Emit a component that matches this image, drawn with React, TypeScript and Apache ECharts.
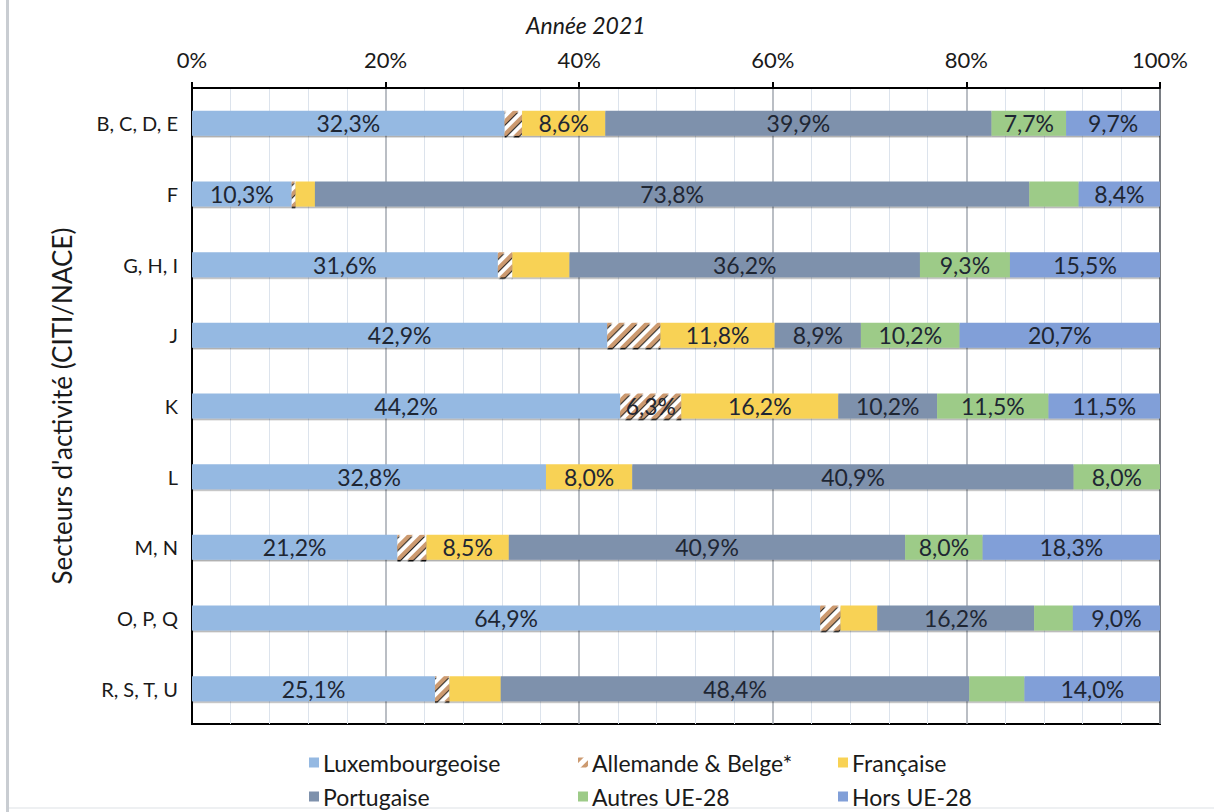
import React, { useEffect, useRef } from "react";
import * as echarts from "echarts";

const categories = ["B, C, D, E", "F", "G, H, I", "J", "K", "L", "M, N", "O, P, Q", "R, S, T, U"];
const seriesNames = ["Luxembourgeoise", "Allemande & Belge*", "Française", "Portugaise", "Autres UE-28", "Hors UE-28"];
const luxembourgeoise = [32.3, 10.3, 31.6, 42.9, 44.2, 32.8, 21.2, 64.9, 25.1];
const allemandeBelge = [1.8, 0.4, 1.5, 5.5, 6.3, null, 3.0, 2.1, 1.5];
const francaise = [8.6, 2.0, 5.9, 11.8, 16.2, 8.0, 8.5, 3.8, 5.3];
const portugaise = [39.9, 73.8, 36.2, 8.9, 10.2, 40.9, 40.9, 16.2, 48.4];
const autresUE = [7.7, 5.1, 9.3, 10.2, 11.5, 8.0, 8.0, 4.0, 5.7];
const horsUE = [9.7, 8.4, 15.5, 20.7, 11.5, null, 18.3, 9.0, 14.0];
const xTickLabels = ["0%", "20%", "40%", "60%", "80%", "100%"];
const labelMin = 6;

const colors = ["#95B9E2", "#FFFFFF", "#F8D255", "#7E91AC", "#9DCB88", "#819FD8"];

const FONT = "Lato, 'Open Sans', sans-serif";

export default function App() {
  const ref = useRef<HTMLDivElement>(null);
  useEffect(() => {
    if (!ref.current) return;
    const chart = echarts.init(ref.current, undefined, { renderer: "svg" });
    const raw = [luxembourgeoise, allemandeBelge, francaise, portugaise, autresUE, horsUE];
    const totals = categories.map((_, i) => raw.reduce((s, arr) => s + (arr[i] ?? 0), 0));

    const series = raw.map((arr, si) => ({
      name: seriesNames[si],
      type: "bar",
      stack: "total",
      barWidth: 25,
      itemStyle: {
        color: colors[si],
        shadowColor: "rgba(0,0,0,0.35)",
        shadowOffsetY: 1.5,
        shadowBlur: 1,
        ...(si === 1
          ? {
              decal: {
                symbol: "rect",
                symbolSize: 1,
                dashArrayX: [[1, 0]],
                dashArrayY: [4, 5],
                rotation: -Math.PI / 4,
                color: "#CC9A70",
                backgroundColor: "#ffffff",
              },
            }
          : {}),
      },
      label: {
        show: true,
        position: "inside",
        color: "#1E2633",
        fontFamily: FONT,
        fontSize: 23,
        formatter: (p: any) => {
          const r = p.data.raw;
          if (r == null || r < labelMin) return "";
          return r.toFixed(1).replace(".", ",") + "%";
        },
      },
      data: arr.map((v, i) => ({ value: v == null ? 0 : (v / totals[i]) * 100, raw: v })),
    }));

    const legendPos = [
      [304, 746],
      [573, 746],
      [833, 746],
      [304, 780],
      [573, 780],
      [833, 780],
    ];
    const legend = seriesNames.map((n, i) => ({
      data: [n],
      left: legendPos[i][0],
      top: legendPos[i][1],
      icon: "rect",
      itemWidth: 10,
      itemHeight: 10,
      itemGap: 5,
      selectedMode: false,
      textStyle: { fontFamily: FONT, fontSize: 23, color: "#1a1a1a", padding: [0, 0, 0, -1] },
    }));

    chart.setOption({
      animation: false,
      backgroundColor: "#ffffff",
      title: {
        text: "Année 2021",
        left: 521,
        top: 8,
        textStyle: { fontFamily: FONT, fontStyle: "italic", fontWeight: "normal", fontSize: 23, color: "#1a1a1a" },
      },
      legend,
      grid: {
        left: 192,
        right: 54,
        top: 88,
        bottom: 88,
        show: true,
        borderColor: "#000000",
        borderWidth: 2,
        backgroundColor: "transparent",
      },
      xAxis: {
        type: "value",
        position: "top",
        min: 0,
        max: 100,
        interval: 20,
        axisLine: { show: true, lineStyle: { color: "#000", width: 2 } },
        axisTick: { show: true, inside: false, length: 6, lineStyle: { color: "#000", width: 2 } },
        axisLabel: {
          margin: 18,
          fontFamily: FONT,
          fontSize: 22,
          color: "#1a1a1a",
          formatter: (v: number) => xTickLabels[Math.round(v / 20)] ?? "",
        },
        splitLine: { show: true, lineStyle: { color: "#A3A8B0", width: 1.5 } },
        minorTick: { show: false, splitNumber: 5 },
        minorSplitLine: { show: true, lineStyle: { color: "#DCE3EC", width: 1 } },
      },
      yAxis: {
        type: "category",
        inverse: true,
        data: categories,
        axisLine: { show: true, lineStyle: { color: "#000", width: 2 } },
        axisTick: { show: false },
        axisLabel: { margin: 14, fontFamily: FONT, fontSize: 20, color: "#1a1a1a" },
        name: "Secteurs d'activité (CITI/NACE)",
        nameLocation: "middle",
        nameGap: 117,
        nameTextStyle: { fontFamily: FONT, fontSize: 26, color: "#1a1a1a" },
      },
      graphic: [
        { type: "rect", left: 6, top: 0, shape: { width: 3, height: 812 }, style: { fill: "#C9CDD2" } },
        { type: "rect", left: 9, top: 807, shape: { width: 1205, height: 2 }, style: { fill: "#EEF0F2" } },
      ],
      series,
    });
    return () => chart.dispose();
  }, []);
  return <div ref={ref} style={{ position: "fixed", left: 0, top: 0, width: 1214, height: 812 }} />;
}
